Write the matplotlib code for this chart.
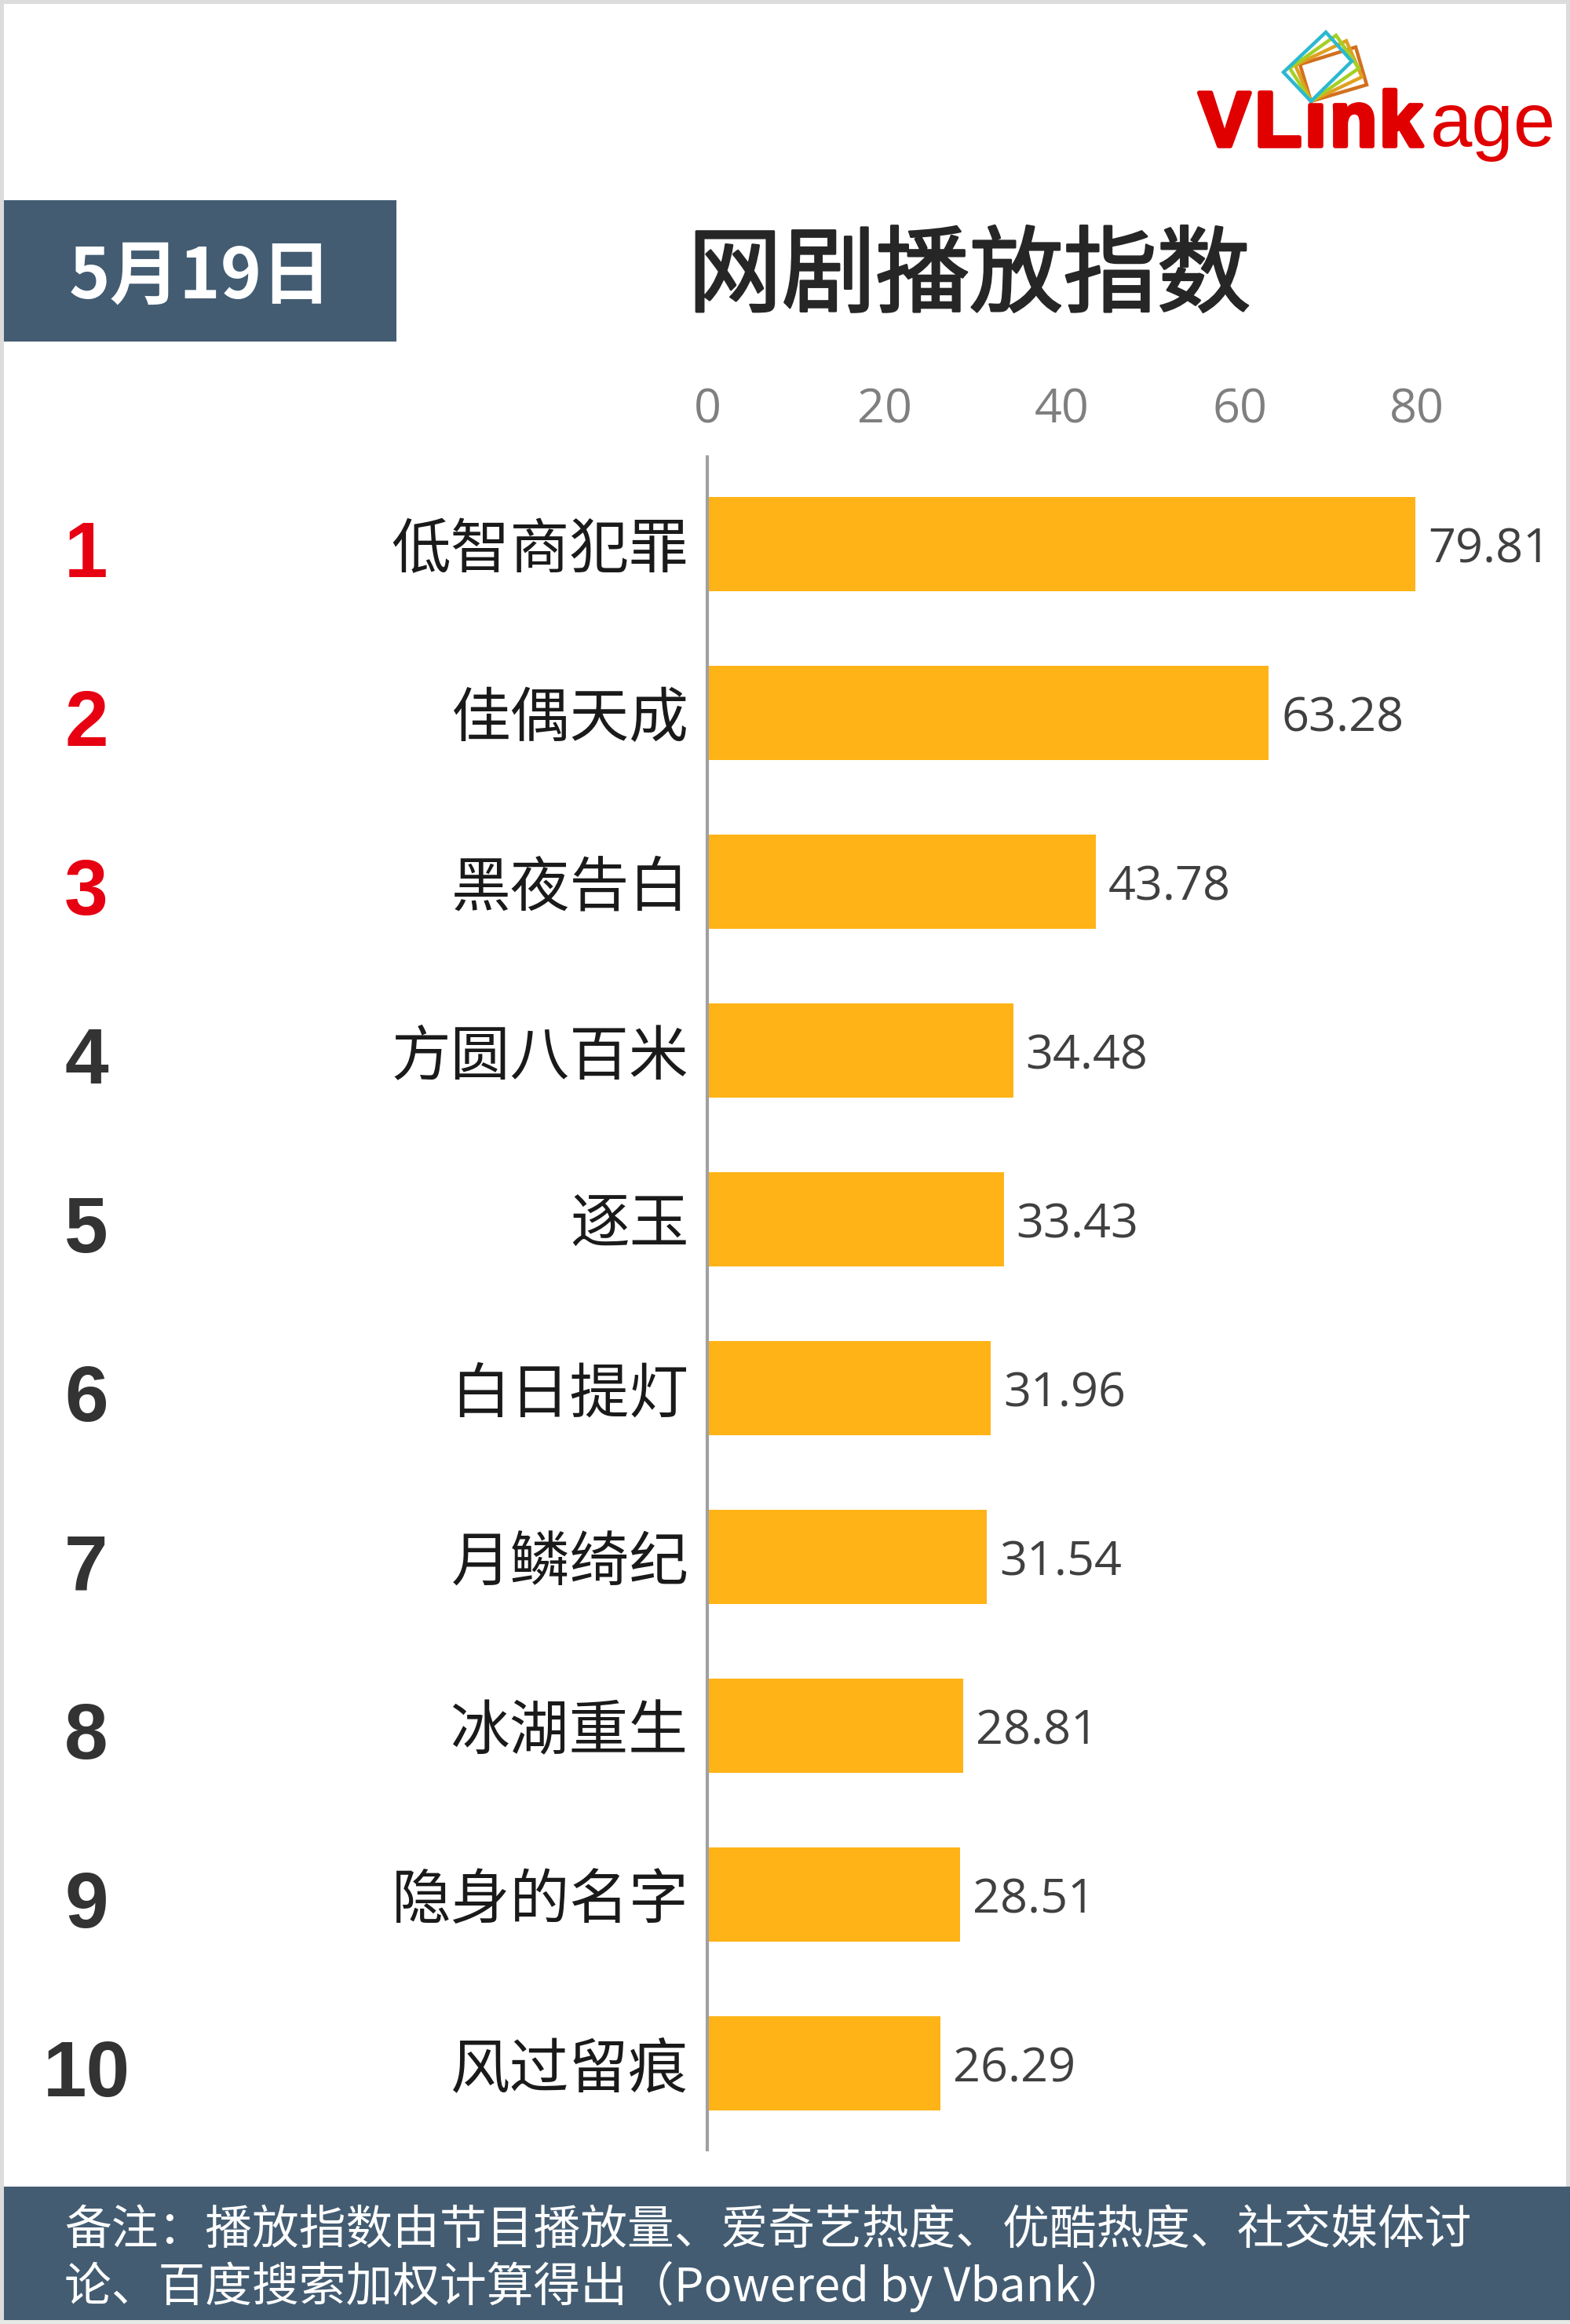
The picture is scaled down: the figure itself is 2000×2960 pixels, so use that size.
import matplotlib
matplotlib.use("Agg")
import matplotlib.pyplot as plt
import matplotlib.patheffects as pe
from matplotlib.patches import Rectangle, Polygon

plt.rcParams['font.family'] = ['Noto Sans CJK SC', 'DejaVu Sans']

# datos del grafico
ranks = ['1', '2', '3', '4', '5', '6', '7', '8', '9', '10']
names = ['低智商犯罪', '佳偶天成', '黑夜告白', '方圆八百米', '逐玉',
         '白日提灯', '月鳞绮纪', '冰湖重生', '隐身的名字', '风过留痕']
values = [79.81, 63.28, 43.78, 34.48, 33.43, 31.96, 31.54, 28.81, 28.51, 26.29]
x_ticks = [0, 20, 40, 60, 80]

title = '网剧播放指数'
date_label = '5月19日'
# signos de ancho completo con escape
note_1 = '备注\uff1a播放指数由节目播放量、爱奇艺热度、优酷热度、社交媒体讨'
note_2 = '论、百度搜索加权计算得出\uff08Powered by Vbank\uff09'

W, H = 2000, 2960
SLATE = '#435c72'
RED = '#e00000'
fig = plt.figure(figsize=(W / 100, H / 100), dpi=100, facecolor='#dcdcdc')

# capa de fondo en pixeles
bg = fig.add_axes([0, 0, 1, 1])
bg.set_xlim(0, W)
bg.set_ylim(H, 0)
bg.axis('off')
bg.add_patch(Rectangle((5, 5), 1990, 2950, color='white', lw=0))
bg.add_patch(Rectangle((5, 255), 500, 180, color=SLATE, lw=0))
bg.add_patch(Rectangle((5, 2785), 1995, 170, color=SLATE, lw=0))
bg.add_patch(Rectangle((0, 2955), 2000, 5, color='#e6eae6', lw=0))

bg.text(255, 354, date_label, color='white', fontsize=64, fontweight='bold',
        ha='center', va='center')
bg.text(1235, 354, title, color='#262626', fontsize=86, ha='center', va='center',
        path_effects=[pe.withStroke(linewidth=2, foreground='#262626')])
bg.text(82, 2842, note_1, color='white', fontsize=43, ha='left', va='center')
bg.text(82, 2912, note_2, color='white', fontsize=43, ha='left', va='center')

# logo
frames = [
    ('#d2701e', [(1670, 129), (1656, 82), (1727, 60), (1741, 108)]),
    ('#e0a020', [(1670, 129), (1650, 83), (1715, 52), (1735, 98)]),
    ('#a4d024', [(1670, 129), (1643, 87), (1702, 45), (1731, 87)]),
    ('#2cb8d0', [(1670, 129), (1635, 92), (1689, 41), (1722, 78)]),
]
for col, pts in frames:
    bg.add_patch(Polygon(pts, closed=True, fill=False, edgecolor=col, lw=3.2))
# letras una por una, la fuente bold es mas angosta que la del logo
for ch, lx in zip(['V', 'L', 'ı', 'n', 'k'], [1527, 1598, 1662, 1694, 1757]):
    bg.text(lx, 186, ch, color=RED, fontsize=71, fontweight='bold',
            family='Liberation Sans', ha='left', va='baseline',
            path_effects=[pe.withStroke(linewidth=4, foreground=RED)])
bg.text(1822, 186, 'age', color=RED, fontsize=69,
        family='Liberation Sans', ha='left', va='baseline')

# grafico de barras
left, right, top, bottom = 901, 2000, 582, 2738
ax = fig.add_axes([left / W, 1 - bottom / H, (right - left) / W, (bottom - top) / H])
ax.patch.set_alpha(0)
ypos = list(range(len(names)))
ax.barh(ypos, values, height=0.557, color='#ffb316')
ax.set_xlim(0, (right - left) / 11.3)
ax.set_ylim(9.51, -0.516)

for s in ['top', 'right', 'bottom']:
    ax.spines[s].set_visible(False)
ax.spines['left'].set_color('#a0a0a0')
ax.spines['left'].set_linewidth(3)

ax.xaxis.tick_top()
ax.set_xticks(x_ticks)
ax.set_xticklabels([str(t) for t in x_ticks], family='Open Sans', fontsize=44, color='#7f7f7f')
ax.tick_params(axis='x', length=0, pad=21)
ax.set_yticks(ypos)
ax.set_yticklabels(names, fontsize=54.5, color='#1a1a1a')
ax.tick_params(axis='y', length=0, pad=17)

for y, v in zip(ypos, values):
    ax.annotate(f'{v:.2f}', xy=(v, y), xytext=(11.5, -5.5), textcoords='offset points',
                family='Open Sans', fontsize=44, color='#404040', ha='left', va='center')

trans = ax.get_yaxis_transform()
for y, r in zip(ypos, ranks):
    col = '#e60012' if y < 3 else '#333333'
    ax.text((110 - left) / (right - left), y + 0.075, r, transform=trans, color=col,
            family='Liberation Sans', fontweight='bold', fontsize=72,
            ha='center', va='center', clip_on=False)

fig.savefig('out.png', dpi=100, facecolor=fig.get_facecolor())
